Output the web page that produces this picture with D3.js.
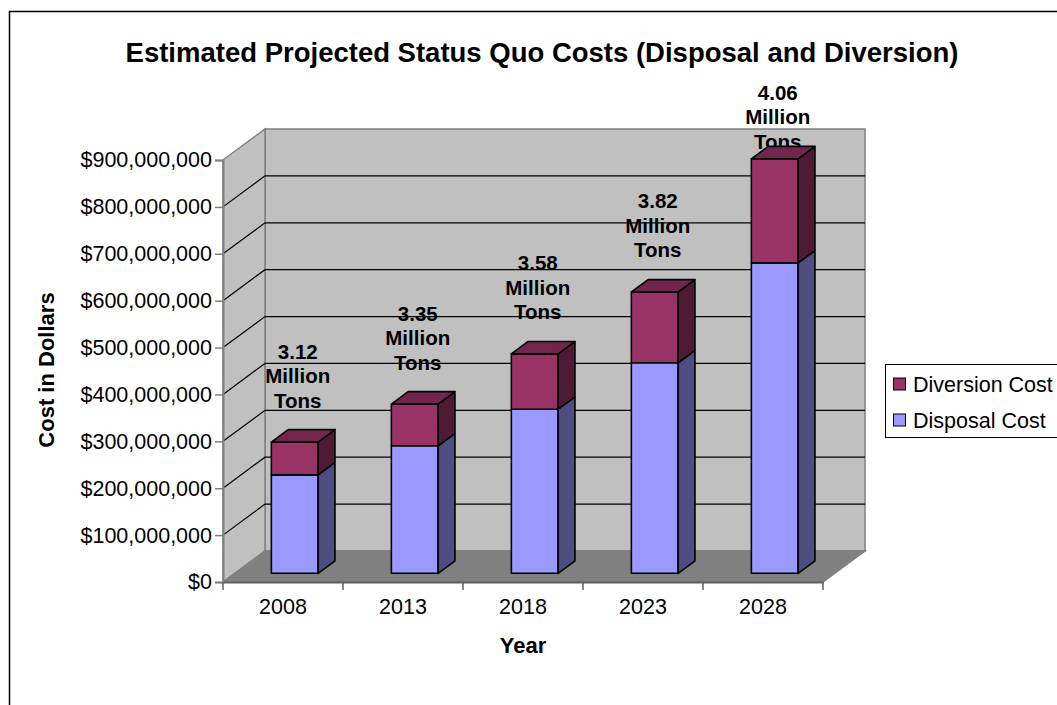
<!DOCTYPE html>
<html>
<head>
<meta charset="utf-8">
<script src="https://cdn.jsdelivr.net/npm/d3@7"></script>
<style>
  html, body { margin: 0; padding: 0; background: #fff; }
  svg { display: block; font-family: "Liberation Sans", Arial, sans-serif; }
</style>
</head>
<body>
<svg id="chart" width="1057" height="705"></svg>
<script>
// ---- data ----
const categories = ["2008", "2013", "2018", "2023", "2028"];
const disposalCost = [210e6, 272e6, 350e6, 449e6, 662e6];
const diversionCost = [70e6, 89e6, 118e6, 151e6, 222e6];
const tonnage = ["3.12", "3.35", "3.58", "3.82", "4.06"];
const yTickValues = [0, 100e6, 200e6, 300e6, 400e6, 500e6, 600e6, 700e6, 800e6, 900e6];
const seriesNames = ["Diversion Cost", "Disposal Cost"];

// ---- layout ----
const svg = d3.select("#chart");
const DX = 42, DY = 31;           // depth vector of the 3D box
const barD0 = 0.28, barDD = 0.40; // bar depth start / depth length
const P = (x, y, d) => [x + d * DX, y - d * DY];

const x = d3.scaleBand().domain(categories).range([223, 823]).padding(0);
const y = d3.scaleLinear().domain([0, 900e6]).range([582, 160]);
const barW = x.bandwidth() * 0.39;

const colors = {
  disposal: { front: "#9999ff", side: "#4d4d80", top: "#7373bf" },
  diversion: { front: "#993366", side: "#4f1a35", top: "#73264d" }
};

// outer border
svg.append("rect").attr("x", 9.5).attr("y", 11.5).attr("width", 1100).attr("height", 800)
  .attr("fill", "none").attr("stroke", "#000").attr("stroke-width", 1.5);

// title
svg.append("text").attr("x", 542).attr("y", 62).attr("text-anchor", "middle")
  .attr("font-size", 27.5).attr("font-weight", "bold")
  .text("Estimated Projected Status Quo Costs (Disposal and Diversion)");

const x0 = x.range()[0], x1 = x.range()[1];
const yTop = y(900e6), y0 = y(0);
const line = d3.line();

// back wall
const bw0 = P(x0, yTop, 1), bw1 = P(x1, y0, 1);
svg.append("rect").attr("x", bw0[0]).attr("y", bw0[1])
  .attr("width", bw1[0] - bw0[0]).attr("height", bw1[1] - bw0[1])
  .attr("fill", "#c0c0c0").attr("stroke", "#808080").attr("stroke-width", 1.5);

// left wall
svg.append("path").attr("d", line([[x0, yTop], P(x0, yTop, 1), P(x0, y0, 1), [x0, y0]]) + "Z")
  .attr("fill", "#c0c0c0").attr("stroke", "#808080").attr("stroke-width", 1.5);

// floor
svg.append("path").attr("d", line([[x0, y0], [x1, y0], P(x1, y0, 1), P(x0, y0, 1)]) + "Z")
  .attr("fill", "#808080").attr("stroke", "#808080").attr("stroke-width", 1.5);

// gridlines
const grid = svg.append("g");
yTickValues.filter(v => v > 0 && v < 900e6).forEach(v => {
  const a = [x0, y(v)], b = P(x0, y(v), 1), c = P(x1, y(v), 1);
  grid.append("path").attr("d", line([a, b, c])).attr("fill", "none")
    .attr("stroke", "#000").attr("stroke-width", 1.2);
});

// y axis
const yAxis = d3.axisLeft(y).tickValues(yTickValues).tickSize(8).tickPadding(3)
  .tickFormat(d => "$" + d3.format(",")(d));
const gy = svg.append("g").attr("transform", `translate(${x0},0)`).call(yAxis);
gy.select(".domain").attr("stroke", "#808080").attr("stroke-width", 2);
gy.selectAll(".tick line").attr("stroke", "#808080").attr("stroke-width", 1.5);
gy.selectAll(".tick text").attr("font-size", 21.5).attr("fill", "#000")
  .attr("font-family", "Liberation Sans, Arial, sans-serif");

// x axis
const xAxis = d3.axisBottom(x).tickSize(0).tickPadding(17);
const gx = svg.append("g").attr("transform", `translate(0,${y0})`).call(xAxis);
gx.select(".domain").attr("stroke", "#606060").attr("stroke-width", 2);
gx.selectAll(".tick text").attr("font-size", 21.5).attr("fill", "#000")
  .attr("font-family", "Liberation Sans, Arial, sans-serif");
const boundaries = categories.map(c => x(c)).concat([x1]);
gx.selectAll(".bnd").data(boundaries).enter().append("line")
  .attr("x1", d => d).attr("x2", d => d).attr("y1", 0).attr("y2", 8)
  .attr("stroke", "#606060").attr("stroke-width", 1.5);

// axis titles
svg.append("text").attr("transform", "translate(54,370) rotate(-90)")
  .attr("text-anchor", "middle").attr("font-size", 22).attr("font-weight", "bold")
  .text("Cost in Dollars");
svg.append("text").attr("x", 523).attr("y", 653).attr("text-anchor", "middle")
  .attr("font-size", 22).attr("font-weight", "bold").text("Year");

// data labels (drawn before bars)
const labels = svg.append("g");
categories.forEach((c, i) => {
  const total = disposalCost[i] + diversionCost[i];
  const fx = x(c) + (x.bandwidth() - barW) / 2 + barD0 * DX;
  const topFront = y(total) - barD0 * DY;
  const cx = fx + barW / 2 + 3;
  const lh = 24.5;
  let firstCenter = topFront - 42 - 2 * lh;
  firstCenter = Math.max(firstCenter, 92);
  const lines = [tonnage[i], "Million", "Tons"];
  lines.forEach((t, k) => {
    labels.append("text").attr("x", cx).attr("y", firstCenter + k * lh + 7.5)
      .attr("text-anchor", "middle").attr("font-size", 20.5).attr("font-weight", "bold")
      .text(t);
  });
});

// bars
const bars = svg.append("g");
function drawSeg(c, v0, v1, col, withTop) {
  const fx = x(c) + (x.bandwidth() - barW) / 2 + barD0 * DX;
  const yb = y(v0) - barD0 * DY, yt = y(v1) - barD0 * DY;
  const sx = barDD * DX, sy = barDD * DY;
  const st = { stroke: "#000", "stroke-width": 1.6, "stroke-linejoin": "round" };
  const add = (pts, fill) => {
    const p = bars.append("path").attr("d", line(pts) + "Z").attr("fill", fill);
    Object.entries(st).forEach(([k, v]) => p.attr(k, v));
  };
  add([[fx, yt], [fx + barW, yt], [fx + barW, yb], [fx, yb]], col.front);
  add([[fx + barW, yt], [fx + barW + sx, yt - sy], [fx + barW + sx, yb - sy], [fx + barW, yb]], col.side);
  if (withTop) add([[fx, yt], [fx + sx, yt - sy], [fx + barW + sx, yt - sy], [fx + barW, yt]], col.top);
}
categories.forEach((c, i) => {
  drawSeg(c, 0, disposalCost[i], colors.disposal, false);
  drawSeg(c, disposalCost[i], disposalCost[i] + diversionCost[i], colors.diversion, true);
});

// legend
const lg = svg.append("g").attr("transform", "translate(885,364)");
lg.append("rect").attr("x", 0.5).attr("y", 0.5).attr("width", 200).attr("height", 73)
  .attr("fill", "#fff").attr("stroke", "#000").attr("stroke-width", 1);
const legendColors = [colors.diversion.front, colors.disposal.front];
seriesNames.forEach((name, k) => {
  const cy = 20 + k * 36;
  lg.append("rect").attr("x", 8.5).attr("y", cy - 6).attr("width", 12).attr("height", 12)
    .attr("fill", legendColors[k]).attr("stroke", "#000").attr("stroke-width", 1);
  lg.append("text").attr("x", 28).attr("y", cy + 8).attr("font-size", 21.5).text(name);
});
</script>
</body>
</html>
